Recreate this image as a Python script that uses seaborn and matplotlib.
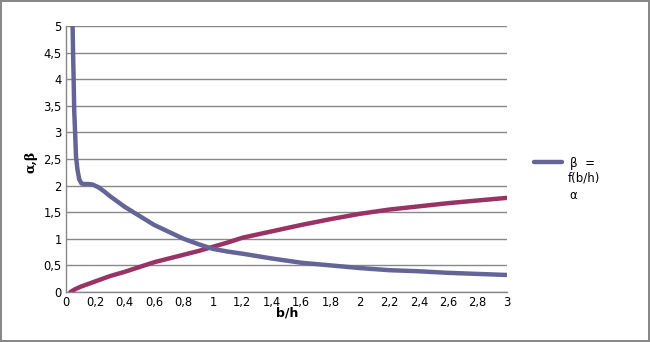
import matplotlib
matplotlib.use("Agg")
import matplotlib.pyplot as plt
import seaborn as sns
import pandas as pd
from matplotlib.lines import Line2D

# data
beta_x = [0.045, 0.048, 0.052, 0.056, 0.062, 0.068, 0.078, 0.09, 0.105, 0.12, 0.15, 0.18,
          0.22, 0.26, 0.3, 0.35, 0.4, 0.5, 0.6, 0.7, 0.8, 0.9, 1.0, 1.1, 1.2, 1.4, 1.6, 1.8,
          2.0, 2.2, 2.4, 2.6, 2.8, 3.0]
beta_y = [5.0, 4.5, 4.0, 3.4, 3.0, 2.55, 2.3, 2.12, 2.04, 2.03, 2.03, 2.02,
          1.97, 1.89, 1.8, 1.7, 1.6, 1.43, 1.26, 1.13, 1.0, 0.9, 0.81, 0.76, 0.72, 0.63, 0.55, 0.5,
          0.45, 0.41, 0.39, 0.36, 0.34, 0.32]
alpha_x = [0.03, 0.06, 0.1, 0.14, 0.2, 0.3, 0.4, 0.5, 0.6, 0.7, 0.8, 0.9, 1.0, 1.1, 1.2,
           1.4, 1.6, 1.8, 2.0, 2.2, 2.4, 2.6, 2.8, 3.0]
alpha_y = [0.0, 0.05, 0.1, 0.14, 0.2, 0.3, 0.38, 0.47, 0.56, 0.63, 0.7, 0.77, 0.85, 0.93, 1.02,
           1.14, 1.26, 1.37, 1.47, 1.55, 1.61, 1.67, 1.72, 1.77]
x_ticks = [0, 0.2, 0.4, 0.6, 0.8, 1, 1.2, 1.4, 1.6, 1.8, 2, 2.2, 2.4, 2.6, 2.8, 3]
x_ticklabels = ["0", "0,2", "0,4", "0,6", "0,8", "1", "1,2", "1,4", "1,6", "1,8", "2", "2,2",
                "2,4", "2,6", "2,8", "3"]
y_ticks = [0, 0.5, 1, 1.5, 2, 2.5, 3, 3.5, 4, 4.5, 5]
y_ticklabels = ["0", "0,5", "1", "1,5", "2", "2,5", "3", "3,5", "4", "4,5", "5"]
beta_label = "β  ="
beta_label_2 = "f(b/h)"
alpha_label = "α"

BLUE = "#646496"
RED = "#993366"

sns.set_style("white")
plt.rcParams['font.family'] = ['DejaVu Sans']
plt.rcParams['text.color'] = 'black'

fig = plt.figure(figsize=(6.5, 3.42), dpi=100, edgecolor="#888888", linewidth=1.5)
ax = fig.add_axes([66/650, 50/342, 441/650, 266/342])

df_b = pd.DataFrame({"x": beta_x, "y": beta_y})
df_a = pd.DataFrame({"x": alpha_x, "y": alpha_y})
sns.lineplot(data=df_a, x="x", y="y", sort=False, color=RED, lw=3.2, ax=ax, zorder=3)
sns.lineplot(data=df_b, x="x", y="y", sort=False, color=BLUE, lw=3.2, ax=ax, zorder=4)

ax.set_xlim(0, 3)
ax.set_ylim(0, 5)
ax.set_xticks(x_ticks)
ax.set_xticklabels(x_ticklabels)
ax.set_yticks(y_ticks)
ax.set_yticklabels(y_ticklabels)
ax.tick_params(axis="both", length=0, labelsize=8.3, colors="black")
ax.tick_params(axis="x", pad=3)
ax.tick_params(axis="y", pad=3)
ax.grid(axis="y", color="#888888", lw=1)
ax.grid(axis="x", visible=False)
for s in ["top", "right"]:
    ax.spines[s].set_visible(False)
for s in ["left", "bottom"]:
    ax.spines[s].set_color("#888888")
    ax.spines[s].set_linewidth(1)

ax.set_xlabel("b/h", fontsize=9, fontweight="bold", color="black")
ax.xaxis.set_label_coords((287 - 66) / 441, -(307 - 292) / 266)
ax.set_ylabel("α,β", fontsize=9, fontweight="bold", family="DejaVu Serif", color="black")
ax.yaxis.set_label_coords(-(66 - 37) / 441, (292 - 162) / 266)

handles = [Line2D([0], [0], color=BLUE, lw=3.2),
           Line2D([0], [0], color=RED, lw=3.2, alpha=0)]
leg = fig.legend(handles, [beta_label, alpha_label], loc="upper left",
                 bbox_to_anchor=(530/650, 1 - 153/342), frameon=False, fontsize=8.5,
                 handlelength=2.45, handletextpad=0.6, labelspacing=1.65,
                 borderaxespad=0, borderpad=0.3)
fig.text(568/650, 1 - 178/342, beta_label_2, fontsize=8.5, va="center", ha="left")

fig.savefig("out.png", dpi=100, edgecolor=fig.get_edgecolor())
